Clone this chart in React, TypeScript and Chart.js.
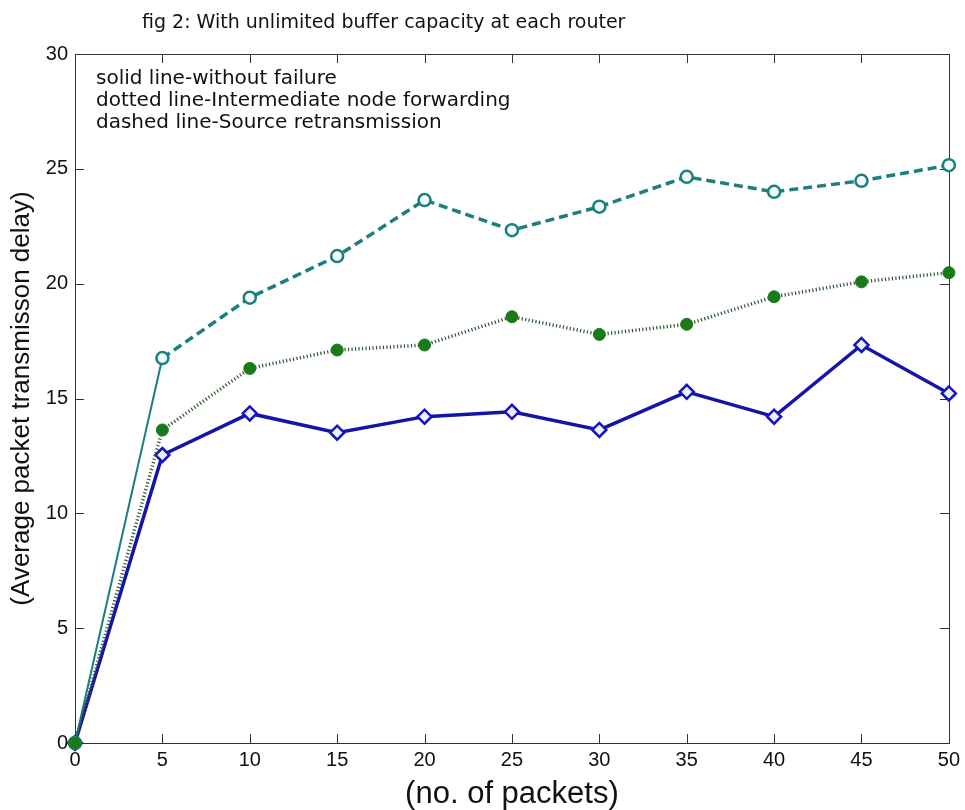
import React, { useEffect, useRef } from "react";
import { Chart, registerables } from "chart.js";

Chart.register(...registerables);

const packets = [0, 5, 10, 15, 20, 25, 30, 35, 40, 45, 50];
const withoutFailure = [0, 12.54, 14.35, 13.51, 14.21, 14.42, 13.63, 15.29, 14.21, 17.33, 15.22];
const intermediateForwarding = [0, 13.63, 16.31, 17.11, 17.33, 18.56, 17.79, 18.23, 19.43, 20.08, 20.48];
const sourceRetransmission = [0, 16.76, 19.39, 21.2, 23.64, 22.33, 23.35, 24.65, 24.0, 24.48, 25.16];

const titleText = "fig 2: With unlimited buffer capacity at each router";
const noteLines = [
  "solid line-without failure",
  "dotted line-Intermediate node forwarding",
  "dashed line-Source retransmission",
];
const xTitle = "(no. of packets)";
const yTitle = "(Average packet transmisson delay)";

const toPoints = (ys: number[]) => packets.map((x, i) => ({ x, y: ys[i] }));

const framePlugin = {
  id: "matlabFrame",
  beforeDatasetsDraw(chart: any) {
    const { ctx, chartArea: a, scales } = chart;
    ctx.save();
    ctx.strokeStyle = "#333";
    ctx.lineWidth = 1;
    ctx.strokeRect(Math.round(a.left) + 0.5, Math.round(a.top) + 0.5, Math.round(a.right - a.left), Math.round(a.bottom - a.top));
    const tl = 9;
    ctx.beginPath();
    scales.x.ticks.forEach((t: any) => {
      const px = Math.round(scales.x.getPixelForValue(t.value)) + 0.5;
      ctx.moveTo(px, a.bottom);
      ctx.lineTo(px, a.bottom - tl);
      ctx.moveTo(px, a.top);
      ctx.lineTo(px, a.top + tl);
    });
    scales.y.ticks.forEach((t: any) => {
      const py = Math.round(scales.y.getPixelForValue(t.value)) + 0.5;
      ctx.moveTo(a.left, py);
      ctx.lineTo(a.left + tl, py);
      ctx.moveTo(a.right, py);
      ctx.lineTo(a.right - tl, py);
    });
    ctx.stroke();
    ctx.restore();
  },
  afterDraw(chart: any) {
    const { ctx } = chart;
    ctx.save();
    ctx.fillStyle = "#111";
    ctx.textBaseline = "alphabetic";
    ctx.textAlign = "left";
    ctx.font = "19px 'DejaVu Sans'";
    ctx.fillText(titleText, 142, 28);
    ctx.font = "20px 'DejaVu Sans'";
    noteLines.forEach((line, i) => {
      ctx.fillText(line, 96, 84 + i * 22);
    });
    ctx.restore();
  },
};

export default function App() {
  const ref = useRef<HTMLCanvasElement | null>(null);

  useEffect(() => {
    if (!ref.current) return;
    const chart = new Chart(ref.current, {
      type: "line",
      data: {
        datasets: [
          {
            label: "without failure",
            data: toPoints(withoutFailure),
            borderColor: "#1414a8",
            borderWidth: 3.5,
            pointStyle: "rectRot",
            pointRadius: 7,
            pointBorderWidth: 2.5,
            pointBorderColor: "#1414c0",
            pointBackgroundColor: "#eef0ff",
            fill: false,
            tension: 0,
            clip: false,
            order: 3,
          },
          {
            label: "Source retransmission",
            data: toPoints(sourceRetransmission),
            borderColor: "#1b7f80",
            borderWidth: 3.5,
            borderDash: [9, 5],
            pointStyle: "circle",
            pointRadius: 6,
            pointBorderWidth: 2.5,
            pointBorderColor: "#1b8080",
            pointBackgroundColor: "#f4fafa",
            segment: {
              borderDash: (c: any) => (c.p0DataIndex === 0 ? [] : undefined),
              borderWidth: (c: any) => (c.p0DataIndex === 0 ? 2 : undefined),
            },
            fill: false,
            tension: 0,
            clip: false,
            order: 2,
          },
          {
            label: "Intermediate node forwarding",
            data: toPoints(intermediateForwarding),
            borderColor: "#305a30",
            borderWidth: 3.5,
            borderDash: [1.2, 2.3],
            pointStyle: "circle",
            pointRadius: 6,
            pointBorderWidth: 1,
            pointBorderColor: "#1a7a1a",
            pointBackgroundColor: "#1a7a1a",
            fill: false,
            tension: 0,
            clip: false,
            order: 1,
          },
        ],
      },
      options: {
        responsive: false,
        maintainAspectRatio: false,
        animation: false,
        devicePixelRatio: 1,
        layout: { padding: { top: 54, right: 15, left: 0, bottom: 0 } },
        plugins: {
          legend: { display: false },
          tooltip: { enabled: false },
          title: { display: false },
        },
        scales: {
          x: {
            type: "linear",
            min: 0,
            max: 50,
            border: { display: false },
            grid: { display: false, drawTicks: false },
            ticks: {
              stepSize: 5,
              padding: 5,
              color: "#111",
              font: { family: "'Liberation Sans', Arial, sans-serif", size: 20 },
            },
            title: {
              display: true,
              text: xTitle,
              color: "#111",
              font: { family: "'Liberation Sans', Arial, sans-serif", size: 31, lineHeight: 1 },
              padding: { top: 0, bottom: 0 },
            },
            afterFit(scale: any) {
              scale.height = 67;
            },
          },
          y: {
            type: "linear",
            min: 0,
            max: 30,
            border: { display: false },
            grid: { display: false, drawTicks: false },
            ticks: {
              stepSize: 5,
              padding: 7,
              color: "#111",
              font: { family: "'Liberation Sans', Arial, sans-serif", size: 20 },
            },
            title: {
              display: true,
              text: yTitle,
              color: "#111",
              font: { family: "'Liberation Sans', Arial, sans-serif", size: 26, lineHeight: 1.2 },
              padding: { top: 6, bottom: 0 },
            },
            afterFit(scale: any) {
              scale.width = 75;
            },
          },
        },
      },
      plugins: [framePlugin],
    });
    return () => chart.destroy();
  }, []);

  return (
    <div style={{ position: "fixed", left: 0, top: 0, width: 965, height: 810, background: "#fff" }}>
      <canvas ref={ref} width={965} height={810} style={{ display: "block", width: 965, height: 810 }} />
    </div>
  );
}
